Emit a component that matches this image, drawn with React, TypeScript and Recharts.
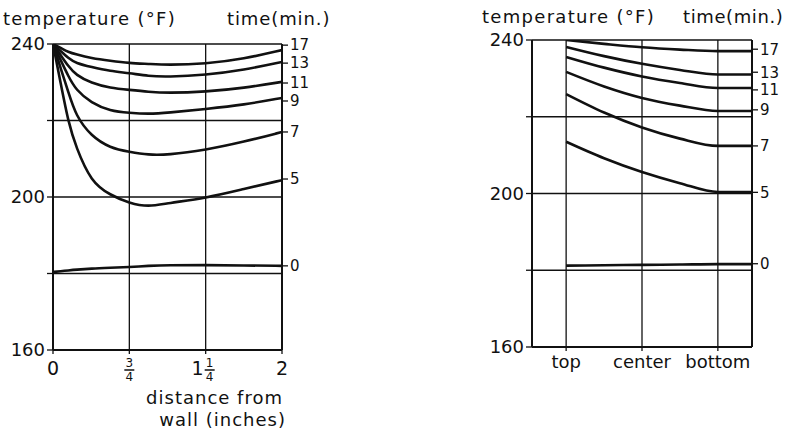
import { LineChart, Line, XAxis, YAxis, CartesianGrid } from "recharts";

// time after start (min.) for each curve
const times = [17, 13, 11, 9, 7, 5, 0];

// left panel: distance from wall, in grid steps (0, 3/4, 1 1/4, 2 inches sit on 0..3)
const wallX = [0, 0.1, 0.2, 0.3, 0.5, 0.75, 1, 1.25, 1.5, 2, 2.5, 3];
const wallTicks = [0, 1, 2, 3];
const wallTickLabels = ["0", "3/4", "1 1/4", "2"];
const wallT17 = [240, 239.0, 237.9, 237.3, 236.3, 235.6, 235.0, 234.8, 234.5, 234.8, 236.1, 238.4];
const wallT13 = [240, 238.2, 236.3, 235.0, 234.0, 232.9, 232.4, 231.6, 231.4, 231.9, 233.2, 235.3];
const wallT11 = [240, 237.1, 234.2, 231.9, 229.8, 228.5, 228.0, 227.5, 227.2, 227.5, 228.5, 230.1];
const wallT9 = [240, 235.8, 231.6, 228.0, 224.6, 222.5, 222.0, 221.7, 222.0, 223.0, 224.1, 225.9];
const wallT7 = [240, 233.7, 227.5, 221.2, 215.9, 212.8, 211.8, 211.0, 211.0, 212.3, 214.4, 217.0];
const wallT5 = [240, 229.8, 219.6, 213.1, 203.9, 200.5, 198.4, 197.4, 198.4, 199.7, 202.1, 204.4];
const wallT0 = [180.4, 180.6, 180.8, 181.0, 181.3, 181.5, 181.7, 182.0, 182.2, 182.2, 182.1, 182.0];
// where the time labels sit on the right edge (°F)
const wallLabelT = [239.7, 235.0, 229.8, 225.1, 217.0, 204.7, 182.0];

// right panel: position in the jar
const posX = [0, 0.5, 1, 1.5, 2, 2.45];
const posTicks = [0, 1, 2];
const posTickLabels = ["top", "center", "bottom"];
const posT17 = [240, 239.0, 238.1, 237.5, 237.1, 237.1];
const posT13 = [238.2, 235.8, 233.8, 232.2, 231.0, 231.0];
const posT11 = [235.6, 232.8, 230.5, 228.8, 227.5, 227.5];
const posT9 = [231.7, 227.9, 224.9, 222.9, 221.5, 221.5];
const posT7 = [225.9, 221.1, 217.2, 214.3, 212.4, 212.4];
const posT5 = [213.5, 209.2, 205.6, 202.7, 200.4, 200.4];
const posT0 = [181.2, 181.3, 181.4, 181.5, 181.6, 181.6];
const posLabelT = [237.6, 231.6, 227.0, 221.8, 212.4, 200.3, 181.7];

const tempTicks = [160, 180, 200, 220, 240];

const INK = "#111";
const FONT = "'DejaVu Sans', sans-serif";

function buildRows(xs: number[], series: number[][]) {
  return xs.map((x, i) => {
    const row: Record<string, number> = { x };
    series.forEach((s, k) => {
      row["t" + times[k]] = s[i];
    });
    return row;
  });
}

const wallSeries = [wallT17, wallT13, wallT11, wallT9, wallT7, wallT5, wallT0];
const posSeries = [posT17, posT13, posT11, posT9, posT7, posT5, posT0];
const wallData = buildRows(wallX, wallSeries);
const posData = buildRows(posX, posSeries);

function WallTick(props: any) {
  const { x, y, payload } = props;
  const idx = wallTicks.indexOf(payload.value);
  const label = wallTickLabels[idx] ?? "";
  const parts = label.split(" ");
  let whole = "";
  let frac = "";
  if (parts.length === 2) {
    whole = parts[0];
    frac = parts[1];
  } else if (label.includes("/")) {
    frac = label;
  } else {
    whole = label;
  }
  const fx = whole && frac ? x + 4 : x;
  const wx = whole && frac ? x - 8 : x;
  const [num, den] = frac ? frac.split("/") : ["", ""];
  return (
    <g fontFamily={FONT} fill={INK}>
      {whole && (
        <text x={wx} y={y + 19} textAnchor="middle" fontSize={19}>
          {whole}
        </text>
      )}
      {frac && (
        <g>
          <text x={fx} y={y + 11} textAnchor="middle" fontSize={12}>
            {num}
          </text>
          <line x1={fx - 5} x2={fx + 5} y1={y + 14} y2={y + 14} stroke={INK} strokeWidth={1.5} />
          <text x={fx} y={y + 25} textAnchor="middle" fontSize={12}>
            {den}
          </text>
        </g>
      )}
    </g>
  );
}

function PosTick(props: any) {
  const { x, y, payload } = props;
  const idx = posTicks.indexOf(payload.value);
  return (
    <text x={x} y={y + 15} textAnchor="middle" fontSize={18} fontFamily={FONT} fill={INK}>
      {posTickLabels[idx] ?? ""}
    </text>
  );
}

function Panel(props: {
  data: Record<string, number>[];
  labelT: number[];
  width: number;
  margin: { top: number; right: number; bottom: number; left: number };
  xDomain: [number, number];
  xTicks: number[];
  tick: any;
  leftWidth: number;
  rightWidth: number;
  curve: "basis" | "monotone";
}) {
  const timeFor = (v: number) => {
    const k = props.labelT.indexOf(v);
    return k >= 0 ? String(times[k]) : "";
  };
  return (
    <LineChart width={props.width} height={430} data={props.data} margin={props.margin}>
      <CartesianGrid stroke={INK} strokeWidth={1.3} />
      <XAxis
        dataKey="x"
        type="number"
        domain={props.xDomain}
        ticks={props.xTicks}
        interval={0}
        tick={props.tick}
        tickSize={4}
        tickLine={{ stroke: INK, strokeWidth: 1.3 }}
        axisLine={{ stroke: INK, strokeWidth: 2 }}
        height={30}
        allowDataOverflow
      />
      <YAxis
        type="number"
        domain={[160, 240]}
        ticks={tempTicks}
        interval={0}
        width={props.leftWidth}
        tickSize={6}
        tickMargin={2}
        tickFormatter={(v: number) => (v % 40 === 0 ? String(v) : "")}
        tick={{ fill: INK, fontSize: 18, fontFamily: FONT }}
        tickLine={{ stroke: INK, strokeWidth: 1.3 }}
        axisLine={{ stroke: INK, strokeWidth: 2 }}
        allowDataOverflow
      />
      <YAxis
        yAxisId="time"
        orientation="right"
        type="number"
        domain={[160, 240]}
        ticks={props.labelT}
        interval={0}
        width={props.rightWidth}
        tickSize={6}
        tickMargin={2}
        tickFormatter={timeFor}
        tick={{ fill: INK, fontSize: 15, fontFamily: FONT }}
        tickLine={{ stroke: INK, strokeWidth: 1.3 }}
        axisLine={{ stroke: INK, strokeWidth: 2 }}
        allowDataOverflow
      />
      {times.map((t) => (
        <Line
          key={t}
          dataKey={"t" + t}
          type={props.curve}
          stroke={INK}
          strokeWidth={2.6}
          dot={false}
          isAnimationActive={false}
        />
      ))}
    </LineChart>
  );
}

const textStyle = {
  position: "absolute" as const,
  fontFamily: FONT,
  fontSize: 18,
  color: INK,
  lineHeight: "20px",
  whiteSpace: "nowrap" as const,
  letterSpacing: 1.3,
};

export default function App() {
  return (
    <div style={{ position: "absolute", left: 0, top: 0, width: 790, height: 430, background: "#fff" }}>
      <div style={{ position: "absolute", left: 0, top: 0 }}>
        <Panel
          data={wallData}
          labelT={wallLabelT}
          width={340}
          margin={{ top: 44, right: 18, bottom: 50, left: 5 }}
          xDomain={[0, 3]}
          xTicks={wallTicks}
          tick={<WallTick />}
          leftWidth={48}
          rightWidth={40}
          curve="basis"
        />
      </div>
      <div style={{ position: "absolute", left: 420, top: 0 }}>
        <Panel
          data={posData}
          labelT={posLabelT}
          width={370}
          margin={{ top: 40, right: 8, bottom: 53, left: 62 }}
          xDomain={[-0.45, 2.45]}
          xTicks={posTicks}
          tick={<PosTick />}
          leftWidth={50}
          rightWidth={30}
          curve="monotone"
        />
      </div>

      <div style={{ ...textStyle, left: 3, top: 9 }}>temperature (°F)</div>
      <div style={{ ...textStyle, left: 227, top: 9, letterSpacing: 0.9 }}>time(min.)</div>
      <div style={{ ...textStyle, left: 482, top: 7 }}>temperature (°F)</div>
      <div style={{ ...textStyle, left: 683, top: 7, letterSpacing: 0.6 }}>time(min.)</div>

      <div style={{ ...textStyle, right: 790 - 283, top: 388, textAlign: "right", letterSpacing: 1 }}>
        distance from
      </div>
      <div style={{ ...textStyle, right: 790 - 286, top: 410, textAlign: "right", letterSpacing: 1 }}>
        wall (inches)
      </div>
    </div>
  );
}
